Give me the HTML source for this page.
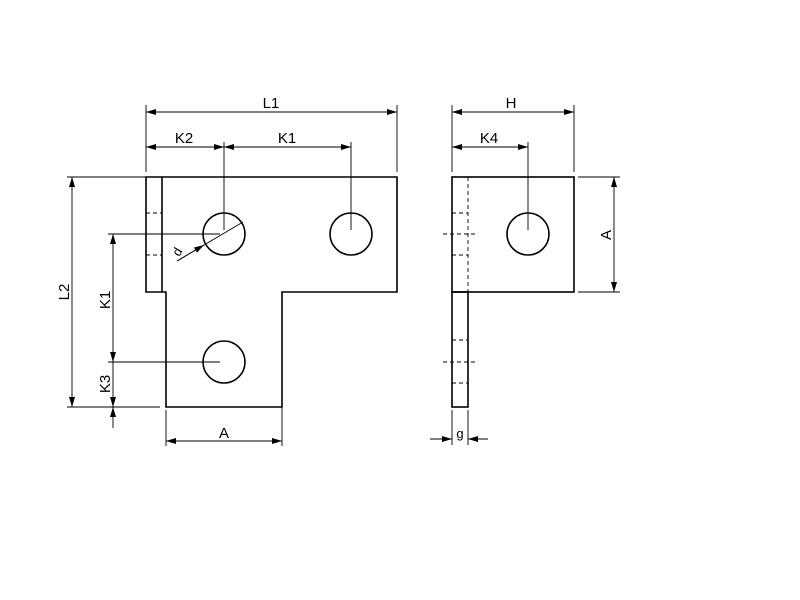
<!DOCTYPE html>
<html><head><style>body{margin:0;background:#fff}svg{display:block}</style></head><body>
<svg width="800" height="600" viewBox="0 0 800 600" xmlns="http://www.w3.org/2000/svg">
<defs>
<marker id="a" viewBox="0 0 10 6" refX="10" refY="3" markerWidth="10" markerHeight="6" orient="auto-start-reverse" markerUnits="userSpaceOnUse"><path d="M0,0 L10,3 L0,6 z" fill="#000"/></marker>
</defs>
<g fill="none" stroke="#000" stroke-width="1.6">
<path d="M146,177 H397 V292 H282 V407 H166 V292 H146 Z"/>
<line x1="162" y1="177" x2="162" y2="292"/>
<circle cx="224" cy="234" r="21"/>
<circle cx="351" cy="234" r="21"/>
<circle cx="224" cy="362" r="21"/>
<rect x="452" y="177" width="122" height="115"/>
<rect x="452" y="292" width="16" height="115"/>
<circle cx="528" cy="234" r="21"/>
</g>
<g fill="none" stroke="#000" stroke-width="0.9" stroke-dasharray="4,3">
<line x1="146" y1="213" x2="162" y2="213"/><line x1="146" y1="255" x2="162" y2="255"/>
<line x1="468" y1="177" x2="468" y2="292"/>
<line x1="452" y1="213" x2="468" y2="213"/><line x1="452" y1="255" x2="468" y2="255"/>
<line x1="452" y1="340" x2="468" y2="340"/><line x1="452" y1="383" x2="468" y2="383"/>
<line x1="443" y1="234" x2="476" y2="234"/><line x1="443" y1="362" x2="476" y2="362"/>
</g>
<g fill="none" stroke="#000" stroke-width="0.9">
<line x1="146" y1="105" x2="146" y2="172"/><line x1="397" y1="105" x2="397" y2="172"/>
<line x1="146" y1="112" x2="397" y2="112" marker-start="url(#a)" marker-end="url(#a)"/>
<line x1="146" y1="147" x2="224" y2="147" marker-start="url(#a)" marker-end="url(#a)"/>
<line x1="224" y1="147" x2="351" y2="147" marker-start="url(#a)" marker-end="url(#a)"/>
<line x1="224" y1="142" x2="224" y2="230"/><line x1="351" y1="142" x2="351" y2="230"/>
<line x1="67" y1="177" x2="146" y2="177"/><line x1="67" y1="407" x2="160" y2="407"/>
<line x1="72" y1="177" x2="72" y2="407" marker-start="url(#a)" marker-end="url(#a)"/>
<line x1="108" y1="234" x2="220" y2="234"/><line x1="108" y1="362" x2="220" y2="362"/>
<line x1="113" y1="234" x2="113" y2="362" marker-start="url(#a)" marker-end="url(#a)"/>
<line x1="113" y1="362" x2="113" y2="407" marker-end="url(#a)"/>
<line x1="113" y1="428" x2="113" y2="407" marker-end="url(#a)"/>
<line x1="166" y1="410" x2="166" y2="446"/><line x1="282" y1="296" x2="282" y2="446"/>
<line x1="166" y1="441" x2="282" y2="441" marker-start="url(#a)" marker-end="url(#a)"/>
<line x1="177" y1="261" x2="243" y2="222"/>
<line x1="177" y1="261" x2="204" y2="245" marker-end="url(#a)"/>
<line x1="452" y1="105" x2="452" y2="172"/><line x1="574" y1="105" x2="574" y2="172"/>
<line x1="452" y1="112" x2="574" y2="112" marker-start="url(#a)" marker-end="url(#a)"/>
<line x1="452" y1="147" x2="528" y2="147" marker-start="url(#a)" marker-end="url(#a)"/>
<line x1="528" y1="142" x2="528" y2="230"/>
<line x1="578" y1="177" x2="620" y2="177"/><line x1="578" y1="292" x2="620" y2="292"/>
<line x1="614" y1="177" x2="614" y2="292" marker-start="url(#a)" marker-end="url(#a)"/>
<line x1="452" y1="410" x2="452" y2="445"/><line x1="468" y1="410" x2="468" y2="445"/>
<line x1="430" y1="439" x2="452" y2="439" marker-end="url(#a)"/>
<line x1="488" y1="439" x2="468" y2="439" marker-end="url(#a)"/>
</g>
<g font-family="Liberation Sans, sans-serif" font-size="15" fill="#000" text-anchor="middle">
<text x="271" y="108">L1</text>
<text x="184" y="143">K2</text>
<text x="287" y="143">K1</text>
<text x="511" y="108">H</text>
<text x="489" y="143">K4</text>
<text x="224" y="438">A</text>
<text x="460" y="438" font-size="13">g</text>
<text transform="translate(69,292) rotate(-90)">L2</text>
<text transform="translate(110,300) rotate(-90)">K1</text>
<text transform="translate(110,384) rotate(-90)">K3</text>
<text transform="translate(611,235) rotate(-90)">A</text>
<text transform="translate(181,254) rotate(-60)" font-size="13">d</text>
</g>
</svg>
</body></html>
